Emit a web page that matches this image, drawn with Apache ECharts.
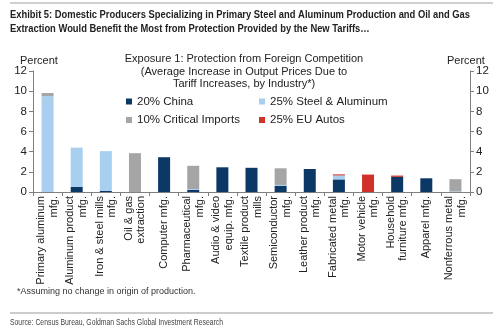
<!DOCTYPE html>
<html><head><meta charset="utf-8">
<script src="https://cdn.jsdelivr.net/npm/echarts@6/dist/echarts.min.js"></script>
<style>html,body{margin:0;padding:0;background:#fff}#c{width:500px;height:334px}</style>
</head><body><div id="c"></div>
<script>
const categories = ['Primary aluminum\nmfg.', 'Aluminum product\nmfg.', 'Iron & steel mills\nmfg.', 'Oil & gas\nextraction', 'Computer mfg.', 'Pharmaceutical\nmfg.', 'Audio & video\nequip. mfg.', 'Textile product\nmills', 'Semiconductor\nmfg.', 'Leather product\nmfg.', 'Fabricated metal\nmfg.', 'Motor vehicle\nmfg.', 'Household\nfurniture mfg.', 'Apparel mfg.', 'Nonferrous metal\nmfg.'];
const china    = [0, 0.5, 0.1, 0, 3.45, 0.2, 2.45, 2.4, 0.6, 2.28, 1.25, 0, 1.5, 1.36, 0];
const steelAl  = [9.5, 3.9, 3.95, 0, 0, 0.1, 0, 0, 0.1, 0, 0.35, 0, 0, 0, 0.05];
const critical = [0.32, 0, 0, 3.85, 0, 2.3, 0, 0, 1.65, 0, 0.05, 0, 0, 0, 1.22];
const euAutos  = [0, 0, 0, 0, 0, 0, 0, 0, 0, 0, 0.1, 1.73, 0.13, 0, 0];
const seriesNames = ['20% China', '25% Steel & Aluminum', '10% Critical Imports', '25% EU Autos'];
const yTicks = { min: 0, max: 12, interval: 2 };
const titleLines = ['Exhibit 5: Domestic Producers Specializing in Primary Steel and Aluminum Production and Oil and Gas',
                    'Extraction Would Benefit the Most from Protection Provided by the New Tariffs…'];
const sourceText = 'Source: Census Bureau, Goldman Sachs Global Investment Research';

const FONT = '"Liberation Sans", Arial, sans-serif';
const colors = ['#0c3866', '#a8cff0', '#a5a5a5', '#d0312d'];

const mctx = document.createElement('canvas').getContext('2d');
function widthOf(text, font) { mctx.font = font; return mctx.measureText(text).width; }
const titleFont = 'bold 11.5px ' + FONT;
const titleScale = 460 / widthOf(titleLines[0], titleFont);
const srcFont = '9px ' + FONT;
const srcScale = 213 / widthOf(sourceText, srcFont);

const chart = echarts.init(document.getElementById('c'), null, { renderer: 'canvas' });

const axisCommon = {
  type: 'value', min: yTicks.min, max: yTicks.max, interval: yTicks.interval,
  splitLine: { show: false },
  axisLine: { show: true, lineStyle: { color: '#7f7f7f', width: 1 } },
  axisTick: { show: true, length: 4, lineStyle: { color: '#7f7f7f' } },
  axisLabel: { fontFamily: FONT, fontSize: 11.5, color: '#222', margin: 6 }
};

const mk = (name, data, i) => ({
  name, type: 'bar', stack: 'a', data, barWidth: 12,
  itemStyle: { color: colors[i] }, emphasis: { disabled: true }
});

const legendText = { fontFamily: FONT, fontSize: 11.5, color: '#222', lineHeight: 13 };

chart.setOption({
  animation: false,
  textStyle: { fontFamily: FONT },
  grid: { left: 33, right: 30, top: 71, bottom: 142, containLabel: false },
  legend: [
    { data: [seriesNames[0], seriesNames[2]], orient: 'vertical', left: 126, top: 95, padding: 0,
      itemWidth: 6, itemHeight: 6, itemGap: 5.5, icon: 'rect', textStyle: legendText },
    { data: [seriesNames[1], seriesNames[3]], orient: 'vertical', left: 259, top: 95, padding: 0,
      itemWidth: 6, itemHeight: 6, itemGap: 5.5, icon: 'rect', textStyle: legendText }
  ],
  xAxis: {
    type: 'category', data: categories,
    axisLine: { lineStyle: { color: '#7f7f7f' } },
    axisTick: { show: true, length: 4, alignWithLabel: false, lineStyle: { color: '#7f7f7f' } },
    axisLabel: { rotate: 90, interval: 0, fontFamily: FONT, fontSize: 11, color: '#222', lineHeight: 12.5, margin: 4 }
  },
  yAxis: [
    Object.assign({}, axisCommon, { position: 'left' }),
    Object.assign({}, axisCommon, { position: 'right' })
  ],
  series: [
    mk(seriesNames[0], china, 0),
    mk(seriesNames[1], steelAl, 1),
    mk(seriesNames[2], critical, 2),
    mk(seriesNames[3], euAutos, 3)
  ],
  graphic: [
    { type: 'line', shape: { x1: 10, y1: 3, x2: 493, y2: 3 }, style: { stroke: '#a0a0a0', lineWidth: 1 } },
    { type: 'text', x: 10, y: 9, scaleX: titleScale, style: { text: titleLines[0], font: titleFont, fill: '#222', verticalAlign: 'top' } },
    { type: 'text', x: 10, y: 23, scaleX: titleScale, style: { text: titleLines[1], font: titleFont, fill: '#222', verticalAlign: 'top' } },
    { type: 'text', x: 244, y: 53, style: { text: 'Exposure 1: Protection from Foreign Competition\n(Average Increase in Output Prices Due to\nTariff Increases, by Industry*)', font: '11px ' + FONT, fill: '#222', align: 'center', lineHeight: 12.5 } },
    { type: 'text', left: 20, top: 55, style: { text: 'Percent', font: '11px ' + FONT, fill: '#222' } },
    { type: 'text', left: 447, top: 55, style: { text: 'Percent', font: '11px ' + FONT, fill: '#222' } },
    { type: 'text', left: 17, top: 287, style: { text: '*Assuming no change in origin of production.', font: '9px ' + FONT, fill: '#333' } },
    { type: 'line', shape: { x1: 10, y1: 313, x2: 493, y2: 313 }, style: { stroke: '#bbbbbb', lineWidth: 1.5 } },
    { type: 'text', x: 10, y: 318, scaleX: srcScale, style: { text: sourceText, font: srcFont, fill: '#444', verticalAlign: 'top' } }
  ]
});
</script></body></html>
